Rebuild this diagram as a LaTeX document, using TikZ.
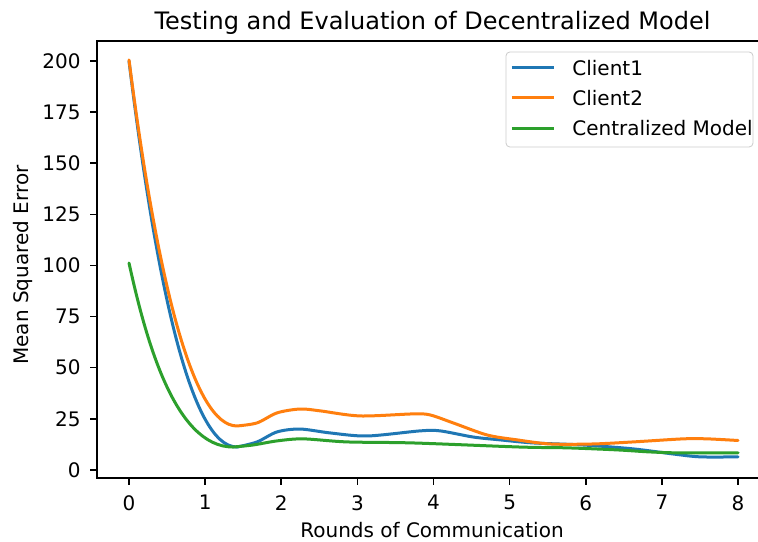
\documentclass[tikz,border=0pt]{standalone}
\usepackage{fontspec}
\setmainfont{DejaVu Sans}
\usepackage{tikz}
\usetikzlibrary{positioning}
\definecolor{cliblue}{RGB}{31, 119, 180}
\definecolor{clioran}{RGB}{255, 127, 14}
\definecolor{centgreen}{RGB}{44, 160, 44}
\definecolor{legedge}{RGB}{204, 204, 204}

\begin{document}
\begin{tikzpicture}[x=38.0625pt, y=1.0225pt,
  curve/.style={line width=1.5pt, line join=round, line cap=round},
  ticklab/.style={inner sep=0pt, font=\fontsize{10}{12}\selectfont}]
  \clip (-1.6946,-35.2) rectangle (8.2627,229.8);
  \fill[white] (-1.6946,-35.2) rectangle (8.2627,229.8);

  % Client1
  \draw[curve, cliblue] (0,200) .. controls (0.35,94) and (0.8,11.2) .. (1.419,11.2)
    -- plot[smooth] coordinates {(1.419,11.2) (1.682,13.7) (1.945,18.6) (2.247,20.0) (2.641,18.1) (3.127,16.6) (3.824,19.1) (4.087,19.1) (4.520,16.1) (4.875,14.7) (5.309,13.2) (5.966,12.2) (6.623,10.3) (7.148,7.8) (7.503,6.4) (8,6.4)};

  % Client2
  \draw[curve, clioran] (0,200.5) .. controls (0.38,90) and (0.85,21.5) .. (1.419,21.5)
    -- plot[smooth] coordinates {(1.419,21.5) (1.682,23.0) (1.945,27.9) (2.247,29.8) (2.510,28.9) (3.035,26.4) (3.732,27.4) (3.955,26.9) (4.258,23.0) (4.704,17.1) (5.099,14.7) (5.532,12.7) (6.097,12.7) (6.623,13.7) (7.280,15.2) (7.595,15.2) (8,14.4)};

  % Centralized Model
  \draw[curve, centgreen] (0,101.2) .. controls (0.22,64) and (0.6,11.2) .. (1.367,11.2)
    -- plot[smooth] coordinates {(1.367,11.2) (1.629,12.2) (1.945,14.2) (2.286,15.2) (2.865,13.7) (3.732,13.2) (5.138,11.2) (5.756,10.8) (6.413,9.8) (6.846,8.8) (7.280,8.3) (8,8.4)};

  % Axes frame
  \draw[line width=0.8pt] (8.5,209.8) -- (-0.42,209.8) -- (-0.42,-3.9) -- (8.5,-3.9);

  % Ticks
  \foreach \i in {0,...,8} {
    \draw[line width=0.8pt] (\i,-3.9) -- ++(0,-3.5pt);
    \node[ticklab, anchor=north] (xt\i) at (\i,-12.2) {\i};
  }
  \foreach \v in {0,25,...,200} {
    \draw[line width=0.8pt] (-0.42,\v) -- ++(-3.5pt,0);
    \node[ticklab, anchor=east] (yt\v) at (-0.63,\v) {\v};
  }

  % Labels
  \node[font=\fontsize{12}{14.4}\selectfont, inner sep=0pt, anchor=base] (title) at (3.987,215.6) {Testing and Evaluation of Decentralized Model};
  \node[ticklab, anchor=base] (xlabel) at (3.98,-32.8) {Rounds of Communication};
  \node[ticklab, rotate=90, anchor=base] (ylabel) at (-1.314,100.2) {Mean Squared Error};

  % Legend
  \draw[legedge, fill=white, fill opacity=0.8, rounded corners=2pt] (4.952,157.9) rectangle (8.197,204.4);
  \draw[curve, cliblue, line cap=butt] (5.031,196.6) -- (5.583,196.6);
  \node[ticklab, anchor=west] (leg1) at (5.819,196.6) {Client1};
  \draw[curve, clioran, line cap=butt] (5.031,181.9) -- (5.583,181.9);
  \node[ticklab, anchor=west] (leg2) at (5.819,181.9) {Client2};
  \draw[curve, centgreen, line cap=butt] (5.031,167.2) -- (5.583,167.2);
  \node[ticklab, anchor=west] (leg3) at (5.819,167.2) {Centralized Model};
\end{tikzpicture}
\end{document}
